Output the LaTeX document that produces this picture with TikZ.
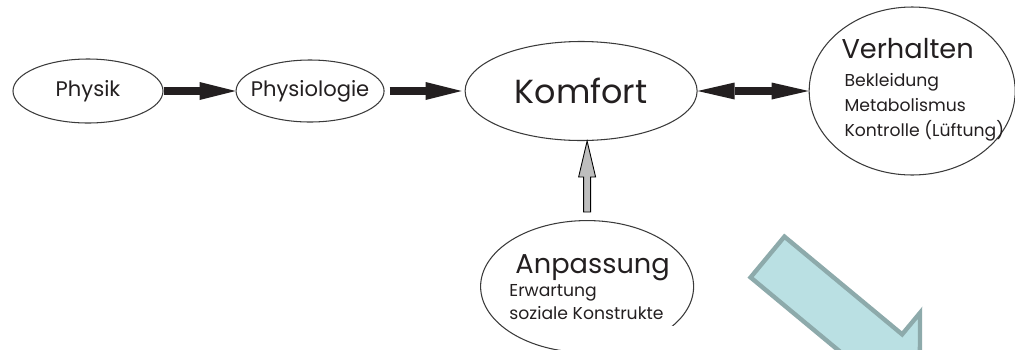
\documentclass[tikz,border=0pt]{standalone}
\usepackage{fontspec}
\setmainfont{Poppins}
\usetikzlibrary{shapes.geometric, arrows.meta, positioning, calc}

\definecolor{inkblack}{HTML}{231F20}
\definecolor{rimgray}{HTML}{3A3A3A}
\definecolor{pushgray}{HTML}{BEBEBE}
\definecolor{tealfill}{HTML}{BAE0E3}
\definecolor{tealrim}{HTML}{8DAAAB}

\tikzset{
  blob/.style={ellipse, draw=rimgray, line width=0.6pt, inner sep=0pt, text=inkblack},
  smallname/.style={font=\fontsize{12}{14}\selectfont},
  bigname/.style={font=\fontsize{15.5}{18}\selectfont, text=inkblack, inner sep=0pt},
  subitems/.style={font=\fontsize{9.8}{14.2}\selectfont, text=inkblack, inner sep=0pt, align=left},
  flow/.style={draw=inkblack, line width=4.4pt, -{Triangle[length=0.72cm, width=0.36cm, line width=0pt]}},
  twoway/.style={draw=inkblack, line width=4pt, {Triangle[length=0.74cm, width=0.34cm, line width=0pt]}-{Triangle[length=0.74cm, width=0.34cm, line width=0pt]}},
  pusharrow/.style={draw=black, fill=pushgray, line width=0.5pt},
  bigdrop/.style={draw=tealrim, fill=tealfill, line width=2.5pt}
}

\begin{document}
\begin{tikzpicture}
\useasboundingbox (0,0) rectangle (20.3,-6.98);

% Chain
\node[blob, smallname, minimum width=3cm, minimum height=1.28cm] (physik) at (1.76,-1.82) {Physik};
\node[blob, smallname, minimum width=2.96cm, minimum height=1.24cm, inner xsep=-0.3cm, right=1.44cm of physik] (physio) {Physiologie};
\node[blob, font=\fontsize{19}{22}\selectfont, minimum width=4.64cm, minimum height=1.98cm, right=1.6cm of physio] (komfort) {Komfort};

% Behaviour
\node[blob, minimum width=4.12cm, minimum height=3.36cm, right=2.22cm of komfort] (verhalten) {};
\node[bigname, anchor=base west] (verhtitle) at ([shift={(-1.42,0.66)}]verhalten.center) {Verhalten};
\node[subitems, anchor=north west] (verhitems) at ([shift={(-1.36,0.36)}]verhalten.center) {Bekleidung\\Metabolismus\\Kontrolle (Lüftung)};

% Adaptation
\node[blob, minimum width=4.26cm, minimum height=2.64cm, below=1.58cm of komfort, xshift=0.12cm] (anpassung) {};
\fill[white] ([shift={(-0.5,-0.2)}]anpassung.south) rectangle ([shift={(0.2,-0.78)}]anpassung.east);
\node[bigname, anchor=base west] (anptitle) at ([shift={(-1.44,0.26)}]anpassung.center) {Anpassung};
\node[subitems, font=\fontsize{9.8}{13.1}\selectfont, anchor=north west] (anpitems) at ([shift={(-1.56,0.04)}]anpassung.center) {Erwartung\\soziale Konstrukte};

% Connectors
\draw[flow] (physik) -- (physio);
\draw[flow, shorten <=0.1cm, shorten >=0.06cm] (physio) -- (komfort);
\draw[twoway] (komfort) -- (verhalten);

\coordinate (pushtail) at ([yshift=0.16cm]anpassung.north);
\coordinate (pushtip) at (pushtail |- komfort.south);
\draw[pusharrow] ($(pushtail)+(-0.07,0)$) -- ($(pushtip)+(-0.07,-0.72)$) -- ($(pushtip)+(-0.17,-0.72)$)
  -- (pushtip) -- ($(pushtip)+(0.17,-0.72)$) -- ($(pushtip)+(0.07,-0.72)$) -- ($(pushtail)+(0.07,0)$) -- cycle;

% Big arrow
\begin{scope}[shift={(15.35,-5.14)}, rotate=-39.7]
\draw[bigdrop] (0,0.53) -- (3.06,0.53) -- (3.06,1.09) -- (3.96,0) -- (3.06,-1.09) -- (3.06,-0.53) -- (0,-0.53) -- cycle;
\end{scope}
\end{tikzpicture}
\end{document}
